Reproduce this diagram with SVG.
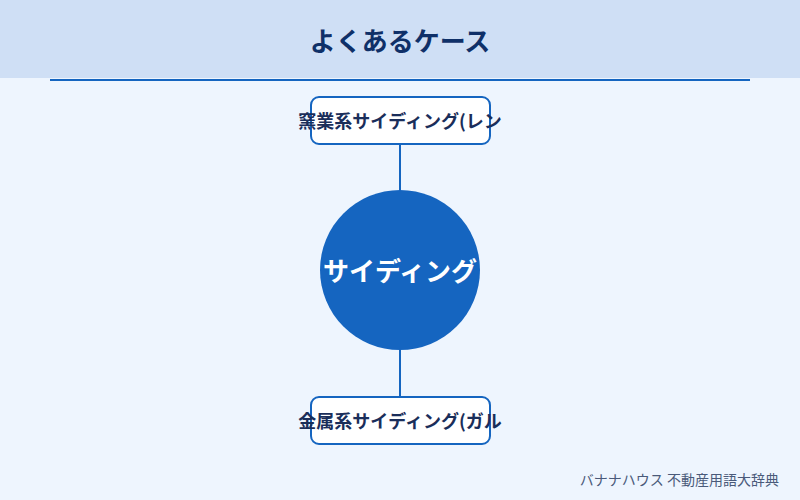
<svg xmlns="http://www.w3.org/2000/svg" width="800" height="500" viewBox="0 0 800 500">
<style>
.t{font-family:"Noto Sans CJK JP","Noto Sans",sans-serif;font-weight:bold}
.box{fill:#ffffff;stroke:#1565c0;stroke-width:2}
.lbl{font-size:18px;fill:#1a2e5a;text-anchor:middle;dominant-baseline:central}
.conn{stroke:#1565c0;stroke-width:2}
</style>
<rect x="0" y="0" width="800" height="500" fill="#eef5fe"/>
<rect x="0" y="0" width="800" height="78" fill="#cfdff5"/>
<text class="t" x="400" y="39" font-size="26" fill="#0f3068" text-anchor="middle" dominant-baseline="central">よくあるケース</text>
<line x1="50" y1="80" x2="750" y2="80" stroke="#1565c0" stroke-width="2"/>
<g id="connectors">
<line class="conn" x1="400" y1="144" x2="400" y2="190"/>
<line class="conn" x1="400" y1="350" x2="400" y2="397"/>
</g>
<g id="center">
<circle cx="400" cy="270" r="80" fill="#1565c0"/>
<text class="t" x="400" y="269" font-size="26" fill="#ffffff" text-anchor="middle" dominant-baseline="central">サイディング</text>
</g>
<g id="top">
<rect class="box" x="311" y="97" width="179" height="47" rx="8"/>
<text class="t lbl" x="400" y="120">窯業系サイディング(レン</text>
</g>
<g id="bottom">
<rect class="box" x="311" y="397" width="179" height="47" rx="8"/>
<text class="t lbl" x="400" y="420">金属系サイディング(ガル</text>
</g>
<text x="779" y="479" font-family="'Noto Sans CJK JP','Noto Sans',sans-serif" font-size="14" fill="#4a5a7a" text-anchor="end" dominant-baseline="central">バナナハウス 不動産用語大辞典</text>
</svg>
